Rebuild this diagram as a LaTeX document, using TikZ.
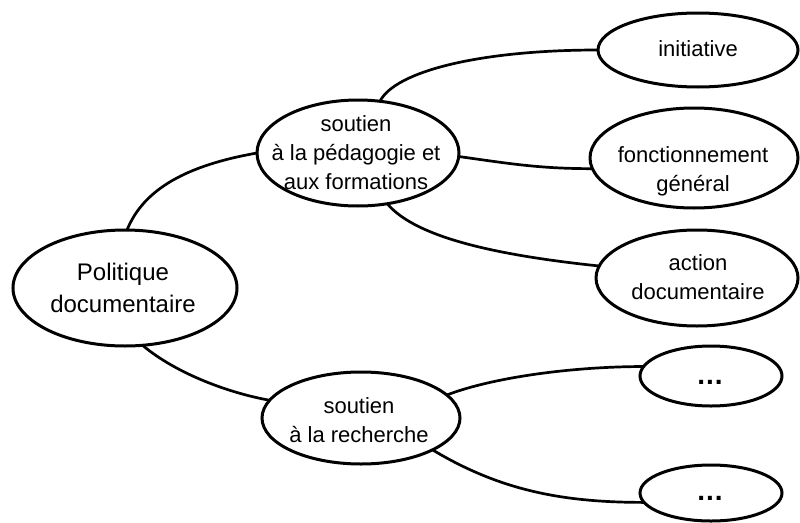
\documentclass[tikz,border=0pt]{standalone}
\usepackage{fontspec}
\setmainfont{Liberation Sans}
\usetikzlibrary{shapes.geometric}
\begin{document}
\begin{tikzpicture}[x=1pt,y=1pt,
  bubble/.style={draw, shape=ellipse, line width=3pt, inner sep=0pt, outer sep=0pt},
  txt/.style={inner sep=0pt, align=center, font=\fontsize{22}{29}\selectfont},
  bigtxt/.style={inner sep=0pt, align=center, font=\fontsize{24}{32}\selectfont},
  dots/.style={inner sep=0pt, font=\fontsize{28}{28}\selectfont\bfseries},
  conn/.style={line width=2.7pt}]
\fill[white] (0,0) rectangle (800,-522);
\useasboundingbox (0,0) rectangle (800,-522);

% ellipses
\node[bubble, minimum width=224pt, minimum height=116pt] (pol)  at (125,-288) {};
\node[bubble, minimum width=202pt, minimum height=106pt] (ped)  at (358,-153) {};
\node[bubble, minimum width=198pt, minimum height=92pt]  (rech) at (361,-418) {};
\node[bubble, minimum width=200pt, minimum height=74pt]  (init) at (698,-50) {};
\node[bubble, minimum width=208pt, minimum height=100pt] (fon)  at (694,-158) {};
\node[bubble, minimum width=202pt, minimum height=96pt]  (act)  at (697,-278) {};
\node[bubble, minimum width=142pt, minimum height=60pt]  (dotA) at (711,-376) {};
\node[bubble, minimum width=142pt, minimum height=56pt]  (dotB) at (711,-493) {};

% texts
\node[bigtxt] (polt)  at (123,-288) {Politique\\documentaire};
\node[txt]    (pedt)  at (356,-153) {soutien\\à la pédagogie et\\aux formations};
\node[txt]    (recht) at (359,-420) {soutien\\à la recherche};
\node[txt]    (initt) at (698,-49)  {initiative};
\node[txt]    (font)  at (693,-171) {fonctionnement\\général};
\node[txt]    (actt)  at (698,-277) {action\\documentaire};
\node[dots]   (dotAt) at (710,-382) {.\kern1pt.\kern1pt.};
\node[dots]   (dotBt) at (710,-498) {.\kern1pt.\kern1pt.};

% connectors
\draw[conn] (pol.88)  to[out=68, in=190, out distance=45pt, in distance=70pt] (ped.180);
\draw[conn] (pol.-73) to[out=-40, in=170, out distance=45pt, in distance=40pt] (rech.169);
\draw[conn] (ped.67)  to[out=63, in=180, out distance=34pt, in distance=117pt] (init.180);
\draw[conn] (ped.-2)  to[out=-8, in=180] (fon.186);
\draw[conn] (ped.-60) to[out=-50, in=174, out distance=45pt, in distance=100pt] (act.173);
\draw[conn] (rech.15) to[out=21, in=180, out distance=50pt, in distance=70pt] (dotA.172);
\draw[conn] (rech.-24) to[out=-31, in=180, out distance=80pt, in distance=80pt] (dotB.188);
\end{tikzpicture}
\end{document}
